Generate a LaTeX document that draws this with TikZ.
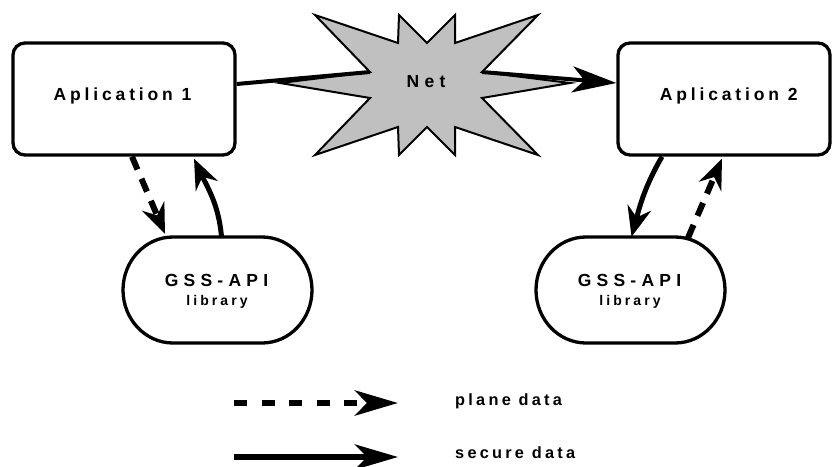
\documentclass[tikz,border=0pt]{standalone}
\usepackage{fontspec}
\setmainfont{Liberation Sans}
\newfontfamily\appfont[LetterSpace=22]{Liberation Sans}
\newfontfamily\gssfont[LetterSpace=30]{Liberation Sans}
\newfontfamily\libfont[LetterSpace=22]{Liberation Sans}
\newfontfamily\legfont[LetterSpace=20]{Liberation Sans}
\usetikzlibrary{arrows.meta,calc}
\definecolor{netgray}{RGB}{192,192,192}
\begin{document}
\begin{tikzpicture}[x=1pt,y=-1pt,
  appbox/.style={draw, line width=3.3pt, rounded corners=12pt, minimum height=112pt, inner sep=0pt},
  libbox/.style={minimum width=189pt, minimum height=106pt, inner sep=0pt},
  libedge/.style={line width=3.3pt},
  applbl/.style={inner sep=0pt, anchor=base, font=\appfont\bfseries\fontsize{17.5}{20}\selectfont},
  gsslbl/.style={inner sep=0pt, anchor=base, font=\gssfont\bfseries\fontsize{17.5}{20}\selectfont},
  liblbl/.style={inner sep=0pt, anchor=base, font=\libfont\bfseries\fontsize{14}{16}\selectfont},
  leglbl/.style={inner sep=0pt, anchor=base west, font=\legfont\bfseries\fontsize{16.3}{18}\selectfont},
  bigsolid/.style={-{Stealth[length=44pt,width=26pt,inset=12pt]}},
  smallsolid/.style={-{Stealth[length=30pt,width=24pt,inset=10pt]}},
  smalldash/.style={dash pattern=on 14pt off 10pt, -{Stealth[open,length=30pt,width=24pt,inset=10pt,line width=6pt]}},
  legdash/.style={line width=6pt, dash pattern=on 13pt off 14.5pt, -{Stealth[open,length=43pt,width=25pt,inset=12pt,line width=7pt]}},
  legsolid/.style={line width=6pt, -{Stealth[length=43pt,width=25pt,inset=12pt]}},
]
\useasboundingbox (0,0) rectangle (832,466);

% application boxes
\node[appbox, minimum width=222pt] (app1) at (124,99) {};
\node[appbox, minimum width=212pt] (app2) at (724,99) {};
\node[applbl] (app1lbl) at (122.5,100.5) {Aplication 1};
\node[applbl] (app2lbl) at (728.7,100.5) {Aplication 2};

% library boxes
\node[libbox] (gss1) at (217.5,290) {};
\node[libbox] (gss2) at (630.5,290) {};
\draw[libedge] (173,237) -- (262,237) arc[start angle=90,end angle=-90,x radius=50pt,y radius=53pt]
  -- (173,343) arc[start angle=270,end angle=90,x radius=50pt,y radius=53pt] -- cycle;
\draw[libedge] (586,237) -- (675,237) arc[start angle=90,end angle=-90,x radius=50pt,y radius=53pt]
  -- (586,343) arc[start angle=270,end angle=90,x radius=50pt,y radius=53pt] -- cycle;
\node[gsslbl] (gss1lbl) at (216.5,286.7) {GSS-API};
\node[liblbl] (lib1lbl) at (217,305.7) {library};
\node[gsslbl] (gss2lbl) at (629.5,286.7) {GSS-API};
\node[liblbl] (lib2lbl) at (630,305.7) {library};

% net star
\draw[fill=netgray, line width=2pt, miter limit=25]
  (280,83) -- (370,72) -- (315,15) -- (398,43) -- (399,15) -- (427,43) -- (455,15)
  -- (455,43) -- (538,15) -- (482,72) -- (570,83) -- (482,98) -- (538,155)
  -- (455,127) -- (455,155) -- (427,127) -- (399,155) -- (398,127) -- (315,155)
  -- (370,98) -- cycle;
\coordinate (netL) at (370,72);
\coordinate (netR) at (482,72);
\node[gsslbl] (net) at (426,87) {Net};

% connectors
\draw[line width=4pt] ([yshift=15pt]app1.east) -- (netL);
\draw[line width=4pt, bigsolid] (netR) -- ([yshift=16pt]app2.west);

\draw[line width=6pt, smalldash] ([xshift=8pt]app1.south) -- ([xshift=-52.5pt,yshift=3pt]gss1.north);
\draw[line width=5pt, smallsolid] ([xshift=4pt]gss1.north) to[out=95,in=-65] ([xshift=70pt,yshift=-2pt]app1.south);

\draw[line width=5pt, smallsolid] ([xshift=-62pt]app2.south) to[out=-120,in=75] ([xshift=1pt]gss2.north);
\draw[line width=6pt, smalldash] ([xshift=57.5pt,yshift=-1pt]gss2.north) -- ([xshift=-2pt,yshift=-2pt]app2.south);

% legend
\coordinate (l1s) at (234,403);
\coordinate (l1e) at (398,403);
\coordinate (l2s) at (234,457);
\coordinate (l2e) at (398,457);
\draw[legdash] (l1s) -- (l1e);
\draw[legsolid] (l2s) -- (l2e);
\node[leglbl] (plane) at (455,405) {plane data};
\node[leglbl] (secure) at (455,458) {secure data};
\end{tikzpicture}
\end{document}
